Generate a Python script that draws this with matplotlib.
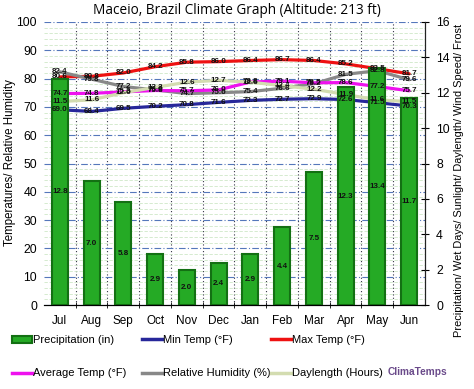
import matplotlib
matplotlib.use("Agg")
import matplotlib.pyplot as plt
import numpy as np
from matplotlib.lines import Line2D
from matplotlib.patches import Patch

plt.rcParams['font.family'] = ['Liberation Sans', 'DejaVu Sans']

months = ["Jul", "Aug", "Sep", "Oct", "Nov", "Dec", "Jan", "Feb", "Mar", "Apr", "May", "Jun"]
precip = [12.8, 7.0, 5.8, 2.9, 2.0, 2.4, 2.9, 4.4, 7.5, 12.3, 13.4, 11.7]
min_temp = [69.0, 68.4, 69.5, 70.2, 70.8, 71.6, 72.3, 72.7, 72.9, 72.6, 71.5, 70.3]
max_temp = [80.6, 80.8, 82.0, 84.2, 85.8, 86.0, 86.4, 86.7, 86.4, 85.2, 83.5, 81.7]
avg_temp = [74.7, 74.8, 75.3, 75.8, 75.7, 76.0, 78.8, 79.1, 78.5, 78.6, 77.2, 75.7]
humidity = [82.4, 79.8, 77.2, 76.0, 74.7, 75.0, 75.4, 76.6, 78.2, 81.5, 82.8, 79.6]
daylength = [11.5, 11.6, 12.0, 12.3, 12.6, 12.7, 12.6, 12.4, 12.2, 11.9, 11.6, 11.5]

x = np.arange(len(months))

W, H = 474, 389
fig = plt.figure(figsize=(W / 100, H / 100), dpi=100)
ax = fig.add_axes([44 / W, 84 / H, 381 / W, 283 / H])
ax2 = ax.twinx()

ax.set_xlim(-0.5, 11.5)
ax.set_ylim(0, 100)
ax2.set_ylim(0, 16)

# grids
ax.set_yticks(np.arange(0, 101, 10))
ax.set_yticks(np.arange(0, 101, 2), minor=True)
ax.grid(which='minor', axis='y', color='#cfe8c8', linestyle=(0, (4, 2)), linewidth=0.6)
ax.grid(which='major', axis='y', color='#5577bb', linestyle=(0, (6, 2, 1, 2)), linewidth=0.8)
ax.set_xticks(x)
ax.set_xticks(np.arange(0.5, 11.5, 1.0), minor=True)
ax.grid(which='minor', axis='x', color='#333344', linestyle=(0, (1, 2)), linewidth=0.8)
ax.tick_params(axis='x', which='major', length=0, labelsize=8.5, pad=7)
ax.tick_params(axis='x', which='minor', length=4, direction='inout')
ax.set_xticklabels(months)
ax.tick_params(axis='y', which='both', length=0, labelsize=8.8)
ax.tick_params(axis='y', which='major', pad=5)

for s in ['top', 'left']:
    ax.spines[s].set_visible(False)
    ax2.spines[s].set_visible(False)
ax.spines['bottom'].set_color('#222222')
ax2.spines['right'].set_color('#222222')
ax2.set_yticks(np.arange(0, 17, 2))
ax2.tick_params(axis='y', length=6, direction='inout', labelsize=8.8, pad=5)

lw = 2.3
kw = dict(lw=lw, solid_joinstyle='round', solid_capstyle='round', zorder=3)
ax.plot(x, min_temp, color='#27279a', **kw)
ax.plot(x, max_temp, color='#ee1111', **kw)
ax.plot(x, humidity, color='#888888', **kw)
ax.plot(x, avg_temp, color='#ee11ee', **kw)
ax2.plot(x, daylength, color='#d3dcb0', lw=lw, solid_joinstyle='round', solid_capstyle='round', zorder=1)
ax2.bar(x, precip, width=0.5, color='#25aa25', edgecolor='#137013', linewidth=1.5, zorder=2)

tk = dict(fontsize=5.8, fontweight='bold', color='#111111', ha='center', va='center', zorder=10)
for i in range(len(months)):
    ax2.text(x[i], precip[i] / 2, f"{precip[i]:.1f}", **tk)
    ax2.text(x[i], daylength[i], f"{daylength[i]:.1f}", **tk)
    for series in (min_temp, max_temp, avg_temp, humidity):
        ax2.text(x[i], series[i], f"{series[i]:.1f}", transform=ax.transData, **tk)

fig.text(10 / W, 1 - 163 / H, "Temperatures/ Relative Humidity", fontsize=8.3,
         rotation=90, ha='center', va='center')
fig.text(459 / W, 1 - 24 / H, "Precipitation/ Wet Days/ Sunlight/ Daylength/ Wind Speed/ Frost",
         fontsize=7.9, rotation=90, ha='center', va='top')
fig.text(0.5 * (44 + 425) / W + 0.005, 1 - 10 / H, "Maceio, Brazil Climate Graph (Altitude: 213 ft)",
         fontsize=9.8, ha='center', va='center', family=['Open Sans', 'DejaVu Sans'])

def mk_patch():
    return Patch(facecolor='#25aa25', edgecolor='#137013', linewidth=1.5)

cols = [
    (12, [mk_patch(), Line2D([], [], color='#ee11ee', lw=2.5)],
     ["Precipitation (in)", "Average Temp (°F)"]),
    (142, [Line2D([], [], color='#27279a', lw=2.5), Line2D([], [], color='#888888', lw=2.5)],
     ["Min Temp (°F)", "Relative Humidity (%)"]),
    (271, [Line2D([], [], color='#ee1111', lw=2.5), Line2D([], [], color='#d3dcb0', lw=2.5)],
     ["Max Temp (°F)", "Daylength (Hours)"]),
]
for x0, hs, ls in cols:
    fig.legend(hs, ls, loc='upper left', bbox_to_anchor=(x0 / W, 1 - 335 / H),
               frameon=False, fontsize=8, handlelength=1.8, handleheight=0.6,
               handletextpad=0.1, labelspacing=2.1, borderaxespad=0, borderpad=0)
fig.text(388 / W, 1 - 372 / H, "ClimaTemps", fontsize=7.3, fontweight='bold', color='#6a4a8a',
         ha='left', va='center')

fig.savefig("out.png", dpi=100, facecolor='white')
